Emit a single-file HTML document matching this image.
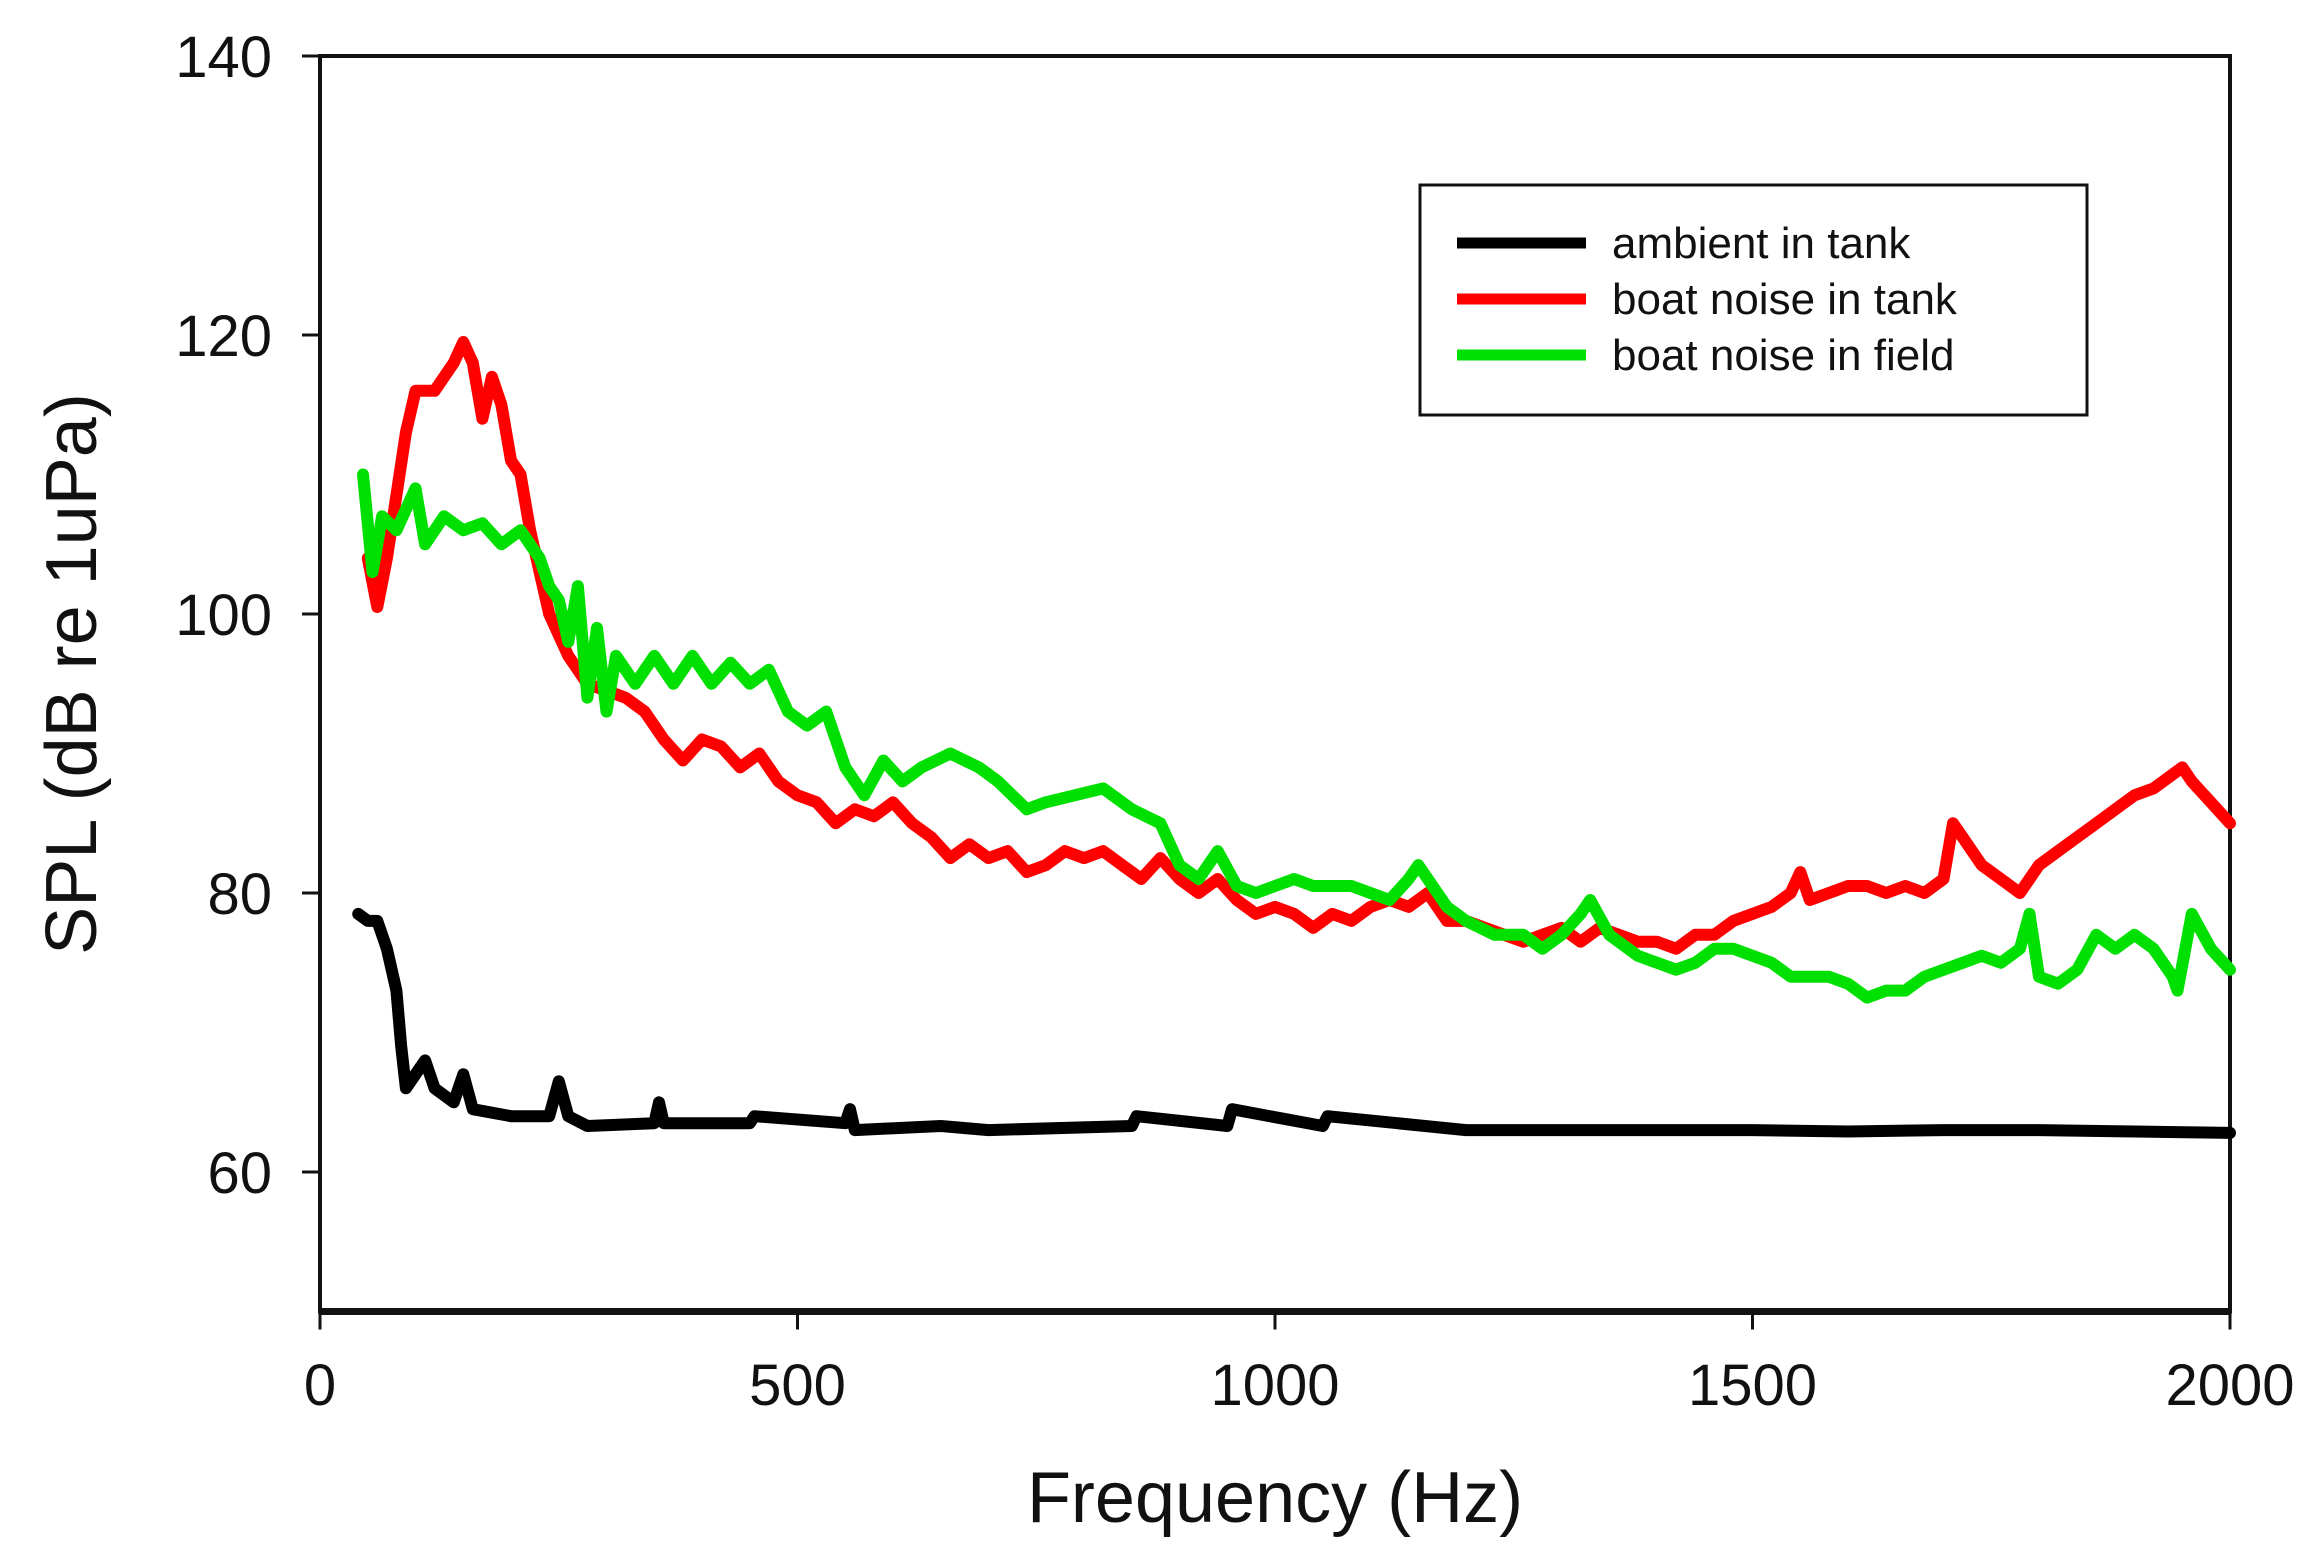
<!DOCTYPE html>
<html><head><meta charset="utf-8">
<style>
html,body{margin:0;padding:0;background:#fff;}
svg{display:block;font-family:"Liberation Sans",Arial,sans-serif;}
</style></head>
<body>
<svg id="chart" width="2324" height="1562" viewBox="0 0 2324 1562">
  <g id="axes"></g>
  <g id="series"></g>
  <text x="1275" y="1522" text-anchor="middle" font-size="72" fill="#111">Frequency (Hz)</text>
  <text transform="translate(96,674) rotate(-90)" text-anchor="middle" font-size="72" fill="#111">SPL (dB re 1uPa)</text>
  <g>
    <rect x="1420" y="185" width="667" height="230" fill="#fff" stroke="#111" stroke-width="3"/>
    <line x1="1457" y1="243" x2="1586" y2="243" stroke="#000" stroke-width="11"/>
    <text x="1612" y="258" font-size="44" fill="#111">ambient in tank</text>
    <line x1="1457" y1="299" x2="1586" y2="299" stroke="#ff0000" stroke-width="11"/>
    <text x="1612" y="314" font-size="44" fill="#111">boat noise in tank</text>
    <line x1="1457" y1="355" x2="1586" y2="355" stroke="#00e000" stroke-width="11"/>
    <text x="1612" y="370" font-size="44" fill="#111">boat noise in field</text>
  </g>
</svg>
<script>
const xTicks = [0, 500, 1000, 1500, 2000];
const yTicks = [60, 80, 100, 120, 140];
const ambientHz = [40,50,60,70,80,85,90,100,110,120,140,150,160,200,240,250,260,280,350,355,360,450,455,550,555,560,650,700,850,855,950,955,1050,1055,1200,1300,1400,1500,1600,1700,1800,1900,2000];
const ambientDb = [78.5,78,78,76,73,69,66,67,68,66,65,67,64.5,64,64,66.5,64,63.3,63.5,65,63.5,63.5,64,63.5,64.5,63,63.3,63,63.3,64,63.3,64.5,63.3,64,63,63,63,63,62.9,63,63,62.9,62.8];
const tankHz = [50,60,70,90,100,120,140,150,160,170,180,190,200,210,220,240,260,280,300,320,340,360,380,400,420,440,460,480,500,520,540,560,580,600,620,640,660,680,700,720,740,760,780,800,820,840,860,880,900,920,940,960,980,1000,1020,1040,1060,1080,1100,1120,1140,1160,1180,1200,1220,1240,1260,1280,1300,1320,1340,1360,1380,1400,1420,1440,1460,1480,1500,1520,1540,1550,1560,1580,1600,1620,1640,1660,1680,1700,1710,1720,1740,1760,1780,1800,1820,1840,1860,1880,1900,1920,1940,1950,1960,1980,2000];
const tankDb = [104,100.5,104,113,116,116,118,119.5,118,114,117,115,111,110,106,100,97,95,94.5,94,93,91,89.5,91,90.5,89,90,88,87,86.5,85,86,85.5,86.5,85,84,82.5,83.5,82.5,83,81.5,82,83,82.5,83,82,81,82.5,81,80,81,79.5,78.5,79,78.5,77.5,78.5,78,79,79.5,79,80,78,78,77.5,77,76.5,77,77.5,76.5,77.5,77,76.5,76.5,76,77,77,78,78.5,79,80,81.5,79.5,80,80.5,80.5,80,80.5,80,81,85,84,82,81,80,82,83,84,85,86,87,87.5,88.5,89,88,86.5,85];
const fieldHz = [45,55,65,80,100,110,130,150,170,190,210,230,240,250,260,270,280,290,300,310,330,350,370,390,410,430,450,470,490,510,530,550,570,590,610,630,660,690,710,740,760,790,820,850,880,900,920,940,960,980,1000,1020,1040,1060,1080,1100,1120,1140,1150,1160,1180,1200,1230,1260,1280,1300,1320,1330,1350,1380,1400,1420,1440,1460,1480,1500,1520,1540,1560,1580,1600,1620,1640,1660,1680,1700,1720,1740,1760,1780,1790,1800,1820,1840,1860,1880,1900,1920,1940,1945,1960,1980,2000];
const fieldDb = [110,103,107,106,109,105,107,106,106.5,105,106,104,102,101,98,102,94,99,93,97,95,97,95,97,95,96.5,95,96,93,92,93,89,87,89.5,88,89,90,89,88,86,86.5,87,87.5,86,85,82,81,83,80.5,80,80.5,81,80.5,80.5,80.5,80,79.5,81,82,81,79,78,77,77,76,77,78.5,79.5,77,75.5,75,74.5,75,76,76,75.5,75,74,74,74,73.5,72.5,73,73,74,74.5,75,75.5,75,76,78.5,74,73.5,74.5,77,76,77,76,74,73,78.5,76,74.5];

const X0 = 320, X1 = 2230, Y140 = 56, PER = 279/20;
function xs(v){ return X0 + (v/2000)*(X1-X0); }
function ys(v){ return Y140 + (140 - v)*PER; }
const NS = "http://www.w3.org/2000/svg";
const axes = document.getElementById('axes');
function mk(tag, attrs, parent){ const e = document.createElementNS(NS, tag); for (const k in attrs) e.setAttribute(k, attrs[k]); parent.appendChild(e); return e; }

const frame = mk('rect', {x:X0, y:ys(140), width:X1-X0, height:ys(50)-ys(140), fill:'none', stroke:'#111', 'stroke-width':4}, axes);


const xAxis = mk('line', {x1:X0, x2:X1, y1:ys(50), y2:ys(50), stroke:'#111', 'stroke-width':7}, axes);



xTicks.forEach(t => {
  const l = mk('line', {x1:xs(t), x2:xs(t), y1:ys(50), y2:ys(50)+18, stroke:'#111', 'stroke-width':3}, axes);
  
  
  const tx = mk('text', {x:xs(t), y:1405, 'text-anchor':'middle', 'font-size':58, fill:'#111'}, axes);
  tx.textContent = t;
  
  
});
yTicks.forEach(t => {
  const l = mk('line', {x1:X0-18, x2:X0, y1:ys(t), y2:ys(t), stroke:'#111', 'stroke-width':3}, axes);
  
  
  const tx = mk('text', {x:272, y:ys(t)+21, 'text-anchor':'end', 'font-size':58, fill:'#111'}, axes);
  tx.textContent = t;
  
  
});

const ser = document.getElementById('series');
function line(hz, db, color, name){
  const d = hz.map((h,i) => (i ? 'L' : 'M') + xs(h).toFixed(1) + ',' + ys(db[i]).toFixed(1)).join(' ');
  const p = mk('path', {d:d, fill:'none', stroke:color, 'stroke-width':12, 'stroke-linejoin':'round', 'stroke-linecap':'round'}, ser);
  
  
}
line(ambientHz, ambientDb, '#000', 'ambient-in-tank-line');
line(tankHz, tankDb, '#ff0000', 'boat-noise-tank-line');
line(fieldHz, fieldDb, '#00e000', 'boat-noise-field-line');
</script>
</body></html>
